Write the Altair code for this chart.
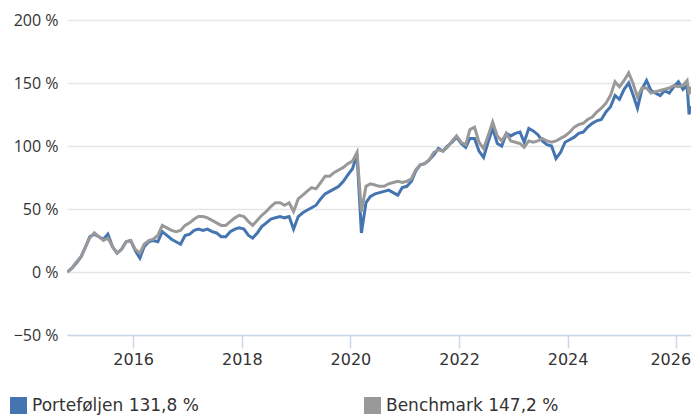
import altair as alt
import pandas as pd

# ---- data ----
months = [f"{y}-{m:02d}-15" for y in range(2014, 2027) for m in range(1, 13)]
dates = [d for d in months if "2014-10-15" <= d <= "2026-03-15"] + ["2026-03-28", "2026-04-08"]

portfolio = [
    0, 3, 7, 12, 20, 28, 30, 28, 26, 30,
    20, 15, 18, 24, 25, 17, 11, 20, 24, 25,
    24, 32, 29, 26, 24, 22, 29, 30, 33, 34,
    33, 34, 32, 31, 28, 28, 32, 34, 35, 34,
    29, 27, 31, 36, 39, 42, 43, 44, 43, 44,
    34, 44, 47, 49, 51, 53, 58, 62, 64, 66,
    68, 72, 77, 82, 93, 31, 55, 60, 62, 63,
    64, 65, 63, 61, 67, 68, 72, 80, 85, 86,
    89, 93, 98, 96, 100, 103, 107, 102, 99, 106,
    106, 96, 91, 103, 114, 102, 100, 110, 108, 110,
    111, 103, 114, 112, 109, 104, 101, 100, 90, 95,
    103, 105, 107, 110, 111, 115, 118, 120, 121, 127,
    131, 140, 137, 145, 150, 141, 130, 145, 152, 144,
    142, 140, 144, 142, 147, 151, 145, 148, 125, 131.8,
]
benchmark = [
    0, 3, 8, 12, 20, 27, 31, 28, 25, 27,
    20, 15, 18, 24, 25, 18, 15, 22, 25, 26,
    29, 37, 35, 33, 32, 33, 37, 39, 42, 44,
    44, 43, 41, 39, 37, 37, 40, 43, 45, 44,
    40, 37, 41, 45, 48, 52, 55, 55, 53, 55,
    48, 58, 61, 64, 67, 66, 71, 76, 76, 79,
    81, 83, 86, 88, 95, 48, 68, 70, 69, 68,
    68, 70, 71, 72, 71, 72, 74, 81, 85, 86,
    89, 95, 97, 96, 99, 104, 108, 103, 101, 113,
    115, 103, 98, 108, 119, 108, 104, 110, 104, 103,
    102, 99, 104, 103, 104, 106, 104, 103, 104, 106,
    108, 111, 115, 117, 118, 121, 123, 127, 130, 134,
    140, 151, 147, 152, 158, 150, 139, 146, 146, 142,
    143, 144, 145, 146, 148, 147, 148, 152, 141, 147.2,
]
series_names = ["Porteføljen", "Benchmark"]
final_values = [131.8, 147.2]
series_colors = ["#4575b0", "#999999"]
y_ticks = [-50, 0, 50, 100, 150, 200]
x_tick_years = [2016, 2018, 2020, 2022, 2024, 2026]

labels = [f"{n} {str(v).replace('.', ',')} %" for n, v in zip(series_names, final_values)]
n = len(dates)
df = pd.DataFrame({
    "date": dates * 2,
    "value": portfolio + benchmark,
    "series": [labels[0]] * n + [labels[1]] * n,
})

x_enc = alt.X(
    "date:T",
    scale=alt.Scale(
        type="utc",
        domain=[alt.DateTime(year=2014, month=10, date=13, utc=True),
                alt.DateTime(year=2026, month=4, date=10, utc=True)],
    ),
    axis=alt.Axis(
        values=[alt.DateTime(year=y, month=1, date=1, utc=True) for y in x_tick_years],
        labelExpr="utcFormat(datum.value, '%Y')",
        grid=False,
        domainColor="#ccd6eb",
        domainWidth=1.5,
        tickColor="#ccd6eb",
        tickWidth=1.5,
        tickSize=13,
        labelPadding=3,
        labelFont="DejaVu Sans",
        labelFontSize=16,
        labelColor="#333333",
        labelFlush=False,
        labelOffset={"condition": {"test": "utcyear(datum.value) == 2026", "value": -6}, "value": 0},
        title=None,
        zindex=1,
    ),
)
y_enc = alt.Y(
    "value:Q",
    scale=alt.Scale(domain=[-50, 200], nice=False, zero=False),
    axis=alt.Axis(
        values=y_ticks,
        labelExpr="format(datum.value, 'd') + ' %'",
        grid=True,
        gridColor="#e6e6e6",
        gridWidth=1.5,
        domain=False,
        ticks=False,
        labelPadding=9,
        labelFont="Open Sans",
        labelFontSize=16,
        labelColor="#333333",
        title=None,
    ),
)

base = alt.Chart(df)
line_p = base.transform_filter(alt.datum.series == labels[0]).mark_line(
    color=series_colors[0], strokeWidth=3, clip=True
).encode(x=x_enc, y=y_enc)
line_b = base.transform_filter(alt.datum.series == labels[1]).mark_line(
    color=series_colors[1], strokeWidth=3, clip=True
).encode(x=x_enc, y=y_enc)

legend_layer = base.mark_square(size=0, opacity=1, filled=True).encode(
    x=x_enc,
    y=y_enc,
    fill=alt.Fill(
        "series:N",
        scale=alt.Scale(domain=labels, range=series_colors),
        legend=alt.Legend(
            orient="none",
            legendX=-57,
            legendY=377,
            direction="horizontal",
            columnPadding=165,
            symbolType="square",
            symbolSize=289,
            symbolStrokeWidth=0,
            labelFont="DejaVu Sans",
            labelFontSize=17,
            labelColor="#333333",
            labelOffset=5,
            labelLimit=400,
            padding=0,
            title=None,
        ),
    ),
)

chart = alt.layer(line_p, line_b, legend_layer).properties(
    width=624,
    height=315,
    autosize=alt.AutoSizeParams(type="none"),
    padding={"left": 59, "top": 12, "right": 0, "bottom": 83},
).configure_view(stroke=None)

chart.save("out.html", embed_options={"renderer": "svg", "actions": False})
